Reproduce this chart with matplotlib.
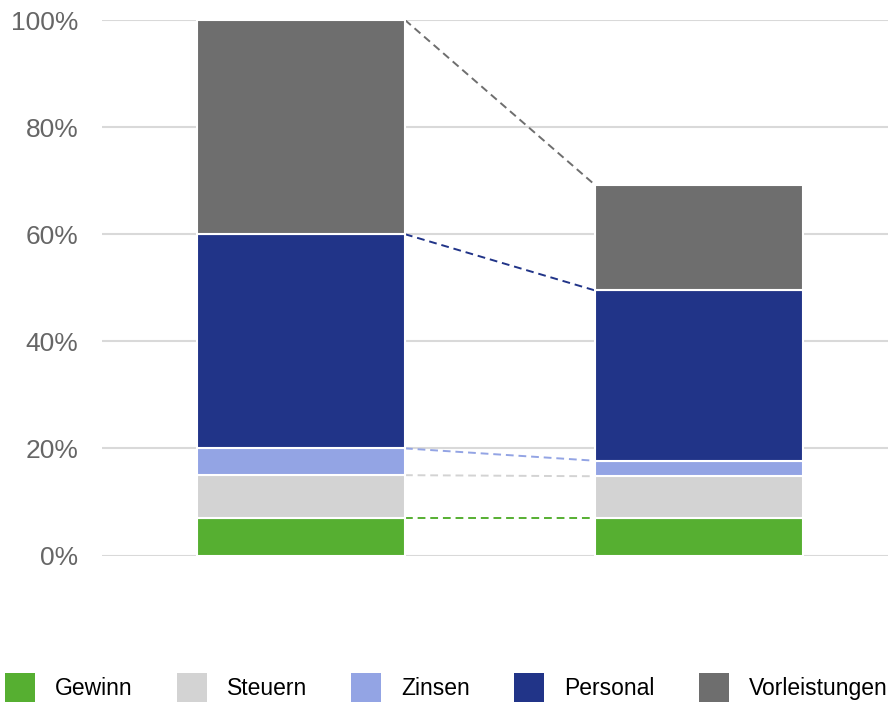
import numpy as np
import matplotlib
matplotlib.use("Agg")
import matplotlib.pyplot as plt
from matplotlib.patches import Patch

plt.rcParams['font.family'] = ['Liberation Sans', 'DejaVu Sans']

# data (percent shares, stacked bottom to top)
segments = ["Gewinn", "Steuern", "Zinsen", "Personal", "Vorleistungen"]
bar1 = [7.0, 8.0, 5.0, 40.0, 40.0]
bar2 = [7.0, 7.8, 2.9, 31.8, 19.7]
colors = ["#56AF31", "#D3D3D3", "#93A4E4", "#213488", "#6E6E6E"]
yticks = [0, 20, 40, 60, 80, 100]

fig = plt.figure(figsize=(8.88, 7.02), dpi=100)
ax = fig.add_axes([102 / 888, 1 - 555.5 / 702, 1 - 102 / 888, (555.5 - 20) / 702])

xpos = np.array([0, 1])
width = 0.5226
values = np.array([bar1, bar2])
bottoms = np.zeros(2)
for i, name in enumerate(segments):
    ax.bar(xpos, values[:, i], width, bottom=bottoms, color=colors[i],
           edgecolor="white", linewidth=1.5, zorder=3)
    bottoms = bottoms + values[:, i]
    # dashed connector between the segment tops
    ax.plot([xpos[0] + width / 2, xpos[1] - width / 2], [bottoms[0], bottoms[1]],
            linestyle=(0, (4, 2.5)), color=colors[i], linewidth=1.4, zorder=2)

ax.set_xlim(-0.5, 1.475)
ax.set_ylim(0, 100)
ax.set_yticks(yticks)
ax.set_yticklabels([f"{t}%" for t in yticks])
ax.set_xticks([])
ax.tick_params(axis="y", length=0, pad=17, labelsize=19, labelcolor="#666666")
ax.grid(axis="y", color="#D9D9D9", linewidth=1.5, zorder=0)
ax.set_axisbelow(True)
for s in ax.spines.values():
    s.set_visible(False)

handles = [Patch(facecolor=c, edgecolor="none") for c in colors]
fig.legend(handles, segments, loc="center left", ncol=5,
           bbox_to_anchor=(5 / 888, 1 - 688 / 702), frameon=False,
           fontsize=16.5, handlelength=1.31, handleheight=1.62,
           handletextpad=0.87, columnspacing=1.93, borderpad=0, borderaxespad=0)

fig.savefig("out.png", dpi=100)
